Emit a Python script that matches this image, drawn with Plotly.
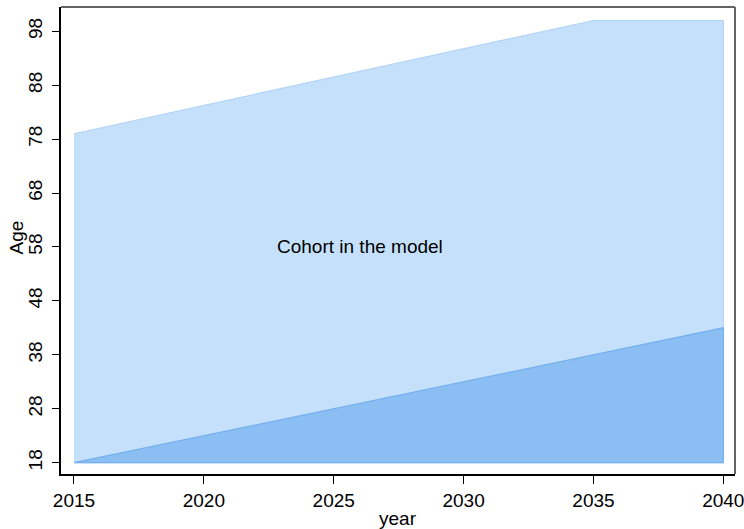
import plotly.graph_objects as go

# Data
years_all = [2015, 2035, 2040]
age_low_all = [18, 18, 18]
age_high_all = [79, 100, 100]

years_cohort = [2015, 2040]
age_low_cohort = [18, 18]
age_high_cohort = [18, 43]

x_ticks = [2015, 2020, 2025, 2030, 2035, 2040]
y_ticks = [18, 28, 38, 48, 58, 68, 78, 88, 98]

label_text = "Cohort in the model"
label_x, label_y = 2026, 58
x_title = "year"
y_title = "Age"

FONT = "Liberation Sans, Arial, sans-serif"
FS = 19

fig = go.Figure()

def poly(xs, lo, hi):
    return list(xs) + list(xs)[::-1], list(hi) + list(lo)[::-1]

px, py = poly(years_all, age_low_all, age_high_all)
fig.add_trace(go.Scatter(x=px, y=py, fill="toself", mode="lines",
                         fillcolor="rgb(197,224,250)",
                         line=dict(color="rgb(178,212,246)", width=1.2),
                         hoverinfo="skip", showlegend=False))
px, py = poly(years_cohort, age_low_cohort, age_high_cohort)
fig.add_trace(go.Scatter(x=px, y=py, fill="toself", mode="lines",
                         fillcolor="rgb(139,190,242)",
                         line=dict(color="rgb(118,176,238)", width=1.2),
                         hoverinfo="skip", showlegend=False))

fig.add_annotation(x=label_x, y=label_y, text=label_text, showarrow=False,
                   font=dict(family=FONT, size=FS, color="black"))
fig.add_annotation(xref="paper", yref="paper", x=0.5, y=0, yshift=-44,
                   yanchor="middle", text=x_title, showarrow=False,
                   font=dict(family=FONT, size=FS, color="black"))
fig.add_annotation(xref="paper", yref="paper", x=0, y=0.5, xshift=-45, yshift=3,
                   xanchor="center", textangle=-90, text=y_title, showarrow=False,
                   font=dict(family=FONT, size=FS, color="black"))

fig.update_layout(
    width=744, height=529,
    margin=dict(l=61, r=9, t=7, b=55),
    plot_bgcolor="white", paper_bgcolor="white",
    font=dict(family=FONT, size=FS, color="black"),
    xaxis=dict(range=[2014.5, 2040.45], tickvals=x_ticks, automargin=False,
               ticks="outside", ticklen=8, tickcolor="black", tickwidth=1.2,
               ticklabeloverflow="allow",
               showgrid=False, zeroline=False,
               showline=True, linecolor="black", linewidth=2, mirror=False,
               tickfont=dict(size=FS)),
    yaxis=dict(range=[15.9, 102.5], tickvals=y_ticks, tickangle=-90, automargin=False,
               ticks="outside", ticklen=7, tickcolor="black", tickwidth=1.2,
               ticklabeloverflow="allow", ticklabelstandoff=2,
               showgrid=False, zeroline=False,
               showline=True, linecolor="black", linewidth=2, mirror=False,
               tickfont=dict(size=FS)),
    shapes=[
        dict(type="line", xref="paper", yref="paper", x0=0, x1=1, y0=1, y1=1,
             line=dict(color="rgb(100,100,100)", width=2)),
        dict(type="line", xref="paper", yref="paper", x0=1, x1=1, y0=0, y1=1,
             line=dict(color="rgb(100,100,100)", width=2)),
    ],
)

fig.write_html("out.html", config={"displayModeBar": False},
               post_script="document.body.style.margin='0';document.body.style.overflow='hidden';")
